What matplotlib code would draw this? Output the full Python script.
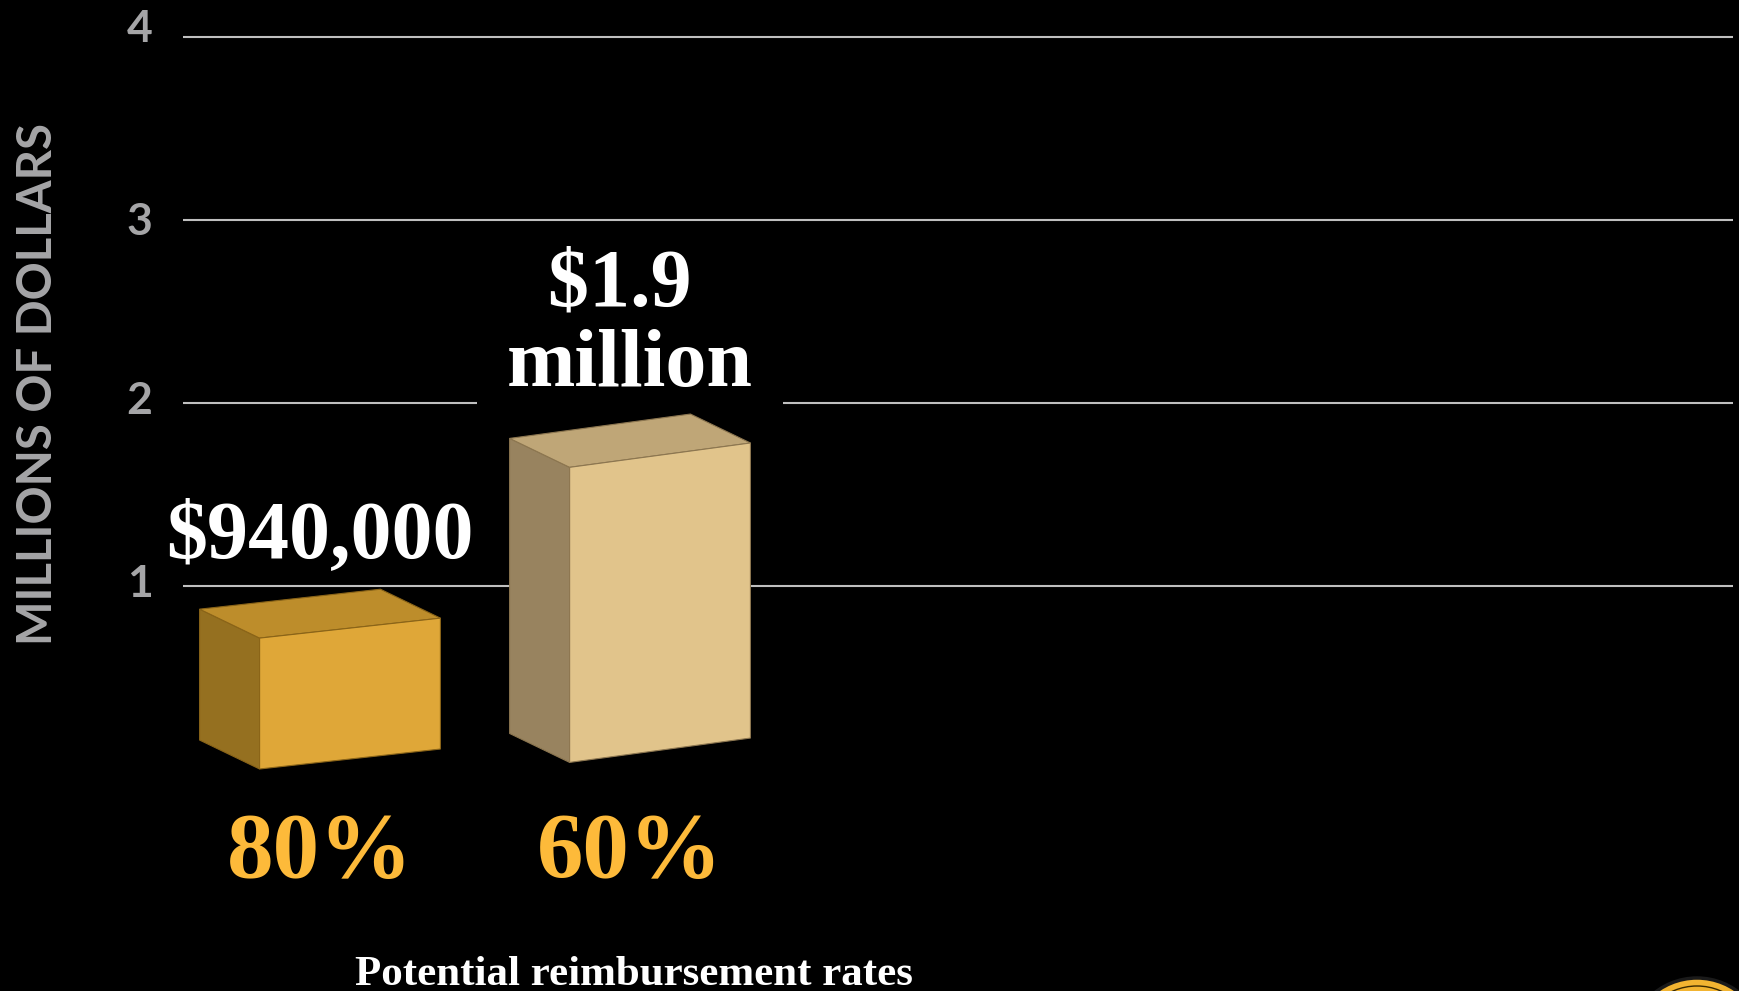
import matplotlib
matplotlib.use('Agg')
import matplotlib.pyplot as plt
from matplotlib.patches import Polygon, Circle
from matplotlib.transforms import IdentityTransform, ScaledTranslation

# ---------------- data ----------------
categories = ['80%', '60%']               # potential reimbursement rates
values = [0.94, 1.9]                      # millions of dollars
value_labels = ['$940,000', '$1.9\u00a0\nmillion']
y_ticks = [1, 2, 3, 4]
y_tick_labels = ['1', '2', '3', '4']
y_label = 'MILLIONS OF DOLLARS'
x_title = 'Potential reimbursement rates'

# ---------------- style ----------------
front_colors = ['#DFA738', '#E1C48B']
side_colors = ['#957020', '#98835F']
top_colors = ['#BD8D2B', '#BFA677']
edge_colors = ['#8A6418', '#8C7650']
label_boxed = [False, True]
tick_label_dy = [5, 5, 1, 11]     # small vertical nudges (pixels) of tick labels
grid_color = '#BFBFBF'
axis_text_color = '#A5A5A7'
pct_color = '#FDBA3A'
serif = 'Liberation Serif'

# pseudo-3D projection parameters (data units)
half_w = 0.2916       # half width of the front face
depth_dx = -0.1935    # depth offset (x)
depth_dy = 0.158      # depth offset (y)
face_tilt = 0.109     # rise of the right edge of the first front face
tilt_growth = 0.024   # extra rise per category slot (perspective)
floor_slope = 0.036   # rise of the floor per category slot
h_scale, h_off = 0.934, -0.163   # projected height of a value

W, H = 1740, 991
fig = plt.figure(figsize=(W / 100, H / 100), dpi=100, facecolor='black')
ax = fig.add_axes([183 / W, 0, (1733 - 183) / W, 1])
ax.set_facecolor('black')
ax.set_ylim(-1.2125, 4.2)
ax.set_xlim(-0.5387, 4.461)
for s in ax.spines.values():
    s.set_visible(False)
ax.set_xticks([])
ax.set_yticks(y_ticks)
ax.set_yticklabels(y_tick_labels, fontfamily='Lato', fontweight='bold',
                   fontsize=32, color=axis_text_color)
ax.tick_params(axis='y', length=0, pad=22)
for lbl, dy in zip(ax.get_yticklabels(), tick_label_dy):
    lbl.set_transform(lbl.get_transform() +
                      ScaledTranslation(0, dy / 100, fig.dpi_scale_trans))

for t in y_ticks:
    ax.axhline(t, color=grid_color, lw=1.5, zorder=0.5)

for i, (v, lab) in enumerate(zip(values, value_labels)):
    x = i
    b = floor_slope * i
    h = h_scale * v + h_off
    tilt = face_tilt + tilt_growth * i
    fl_b = (x - half_w, b)
    fr_b = (x + half_w, b + tilt)
    fr_t = (x + half_w, b + tilt + h)
    fl_t = (x - half_w, b + h)
    shift = lambda p: (p[0] + depth_dx, p[1] + depth_dy)
    side = [fl_b, fl_t, shift(fl_t), shift(fl_b)]
    top = [fl_t, fr_t, shift(fr_t), shift(fl_t)]
    front = [fl_b, fr_b, fr_t, fl_t]
    for poly, col in ((side, side_colors[i]), (top, top_colors[i]),
                      (front, front_colors[i])):
        ax.add_patch(Polygon(poly, closed=True, facecolor=col,
                             edgecolor=edge_colors[i], lw=0.8, zorder=2,
                             joinstyle='miter'))
    # value label above the bar
    cx = x + depth_dx / 2
    base = b + h + depth_dy + 0.285
    lines = lab.split('\n')
    for k, line in enumerate(reversed(lines)):
        kw = {}
        if label_boxed[i] and k == 0:
            kw['bbox'] = dict(boxstyle='square,pad=0.37', fc='black', ec='none')
        ax.text(cx, base + k * 0.442, line, ha='center', va='baseline',
                fontfamily=serif, fontweight='bold', fontsize=59,
                color='white', zorder=1, **kw)
    # category label
    ax.text(cx, -0.588, categories[i], ha='center', va='baseline',
            fontfamily=serif, fontweight='bold', fontsize=67,
            color=pct_color, zorder=3)

fig.text(37.7 / W, 1 - 384 / H, y_label, rotation=90, ha='center', va='center',
         fontfamily='Lato', fontweight='bold', fontsize=34, color=axis_text_color)

fig.text(634 / W, 6 / H, x_title, ha='center', va='baseline',
         fontfamily=serif, fontweight='bold', fontsize=31, color='white')

# partial seal in the bottom-right corner
fig.patches.append(Circle((1697, -55), 68, transform=IdentityTransform(),
                          facecolor='#F2B431', edgecolor='#1A1A1A', lw=2.5))
fig.patches.append(Circle((1697, -55), 60, transform=IdentityTransform(),
                          facecolor='none', edgecolor='#3A2A00', lw=1))

fig.savefig('out.png', dpi=100, facecolor='black')
